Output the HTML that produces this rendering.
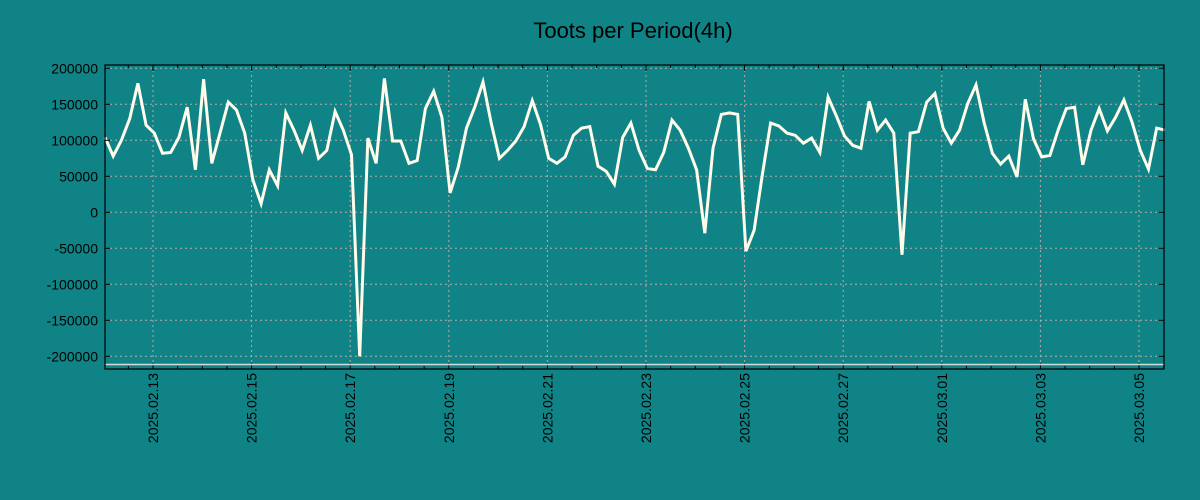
<!DOCTYPE html>
<html><head><meta charset="utf-8"><style>
html,body{margin:0;padding:0;background:#108386;}
svg{display:block;font-family:"Liberation Sans","DejaVu Sans",sans-serif;}
</style></head><body>
<svg id="chart" width="1200" height="500" xmlns="http://www.w3.org/2000/svg">
<rect width="1200" height="500" fill="#108386"/>
<text x="633" y="38" text-anchor="middle" font-size="22" fill="#000">Toots per Period(4h)</text>
<g id="grid"></g>
<g id="series"></g>
<g id="axes"></g>
</svg>
<script>
const values = [104,78,100,130,179,121,110,82,83,104,146,59,185,68,110,153,142,110,45,12,59,37,138,114,86,121,
75,86,140,114,80,-200,103,68,186,99,99,68,72,144,168,132,27,63,117,146,181,124,75,86,99,119,
155,122,75,68,77,107,117,119,64,57,39,104,124,86,61,59,83,128,114,89,59,-29,89,136,138,136,
-54,-25,52,124,120,110,107,96,103,83,160,134,106,93,89,154,114,128,110,-59,110,112,153,165,117,
96,114,151,177,124,82,67,78,49,157,102,77,79,114,144,146,66,114,144,113,132,156,125,86,60,117,114];
const yTicks = [200000,150000,100000,50000,0,-50000,-100000,-150000,-200000];
const xTickLabels = ["2025.02.13","2025.02.15","2025.02.17","2025.02.19","2025.02.21","2025.02.23","2025.02.25","2025.02.27","2025.03.01","2025.03.03","2025.03.05"];
const xTickDays = [1,3,5,7,9,11,13,15,17,19,21]; // days after 2025.02.12

const L=105,R=1164,T=65,B=369;
const pxPerDay=49.3, day0X=103.7; // x of 2025.02.12 00:00
const firstDay=(L-day0X)/pxPerDay;
const xOfDay=d=>day0X+d*pxPerDay;
const xOfIdx=i=>xOfDay(firstDay+i/6);
const yOf=v=>212.3-v/50000*36;
const NS="http://www.w3.org/2000/svg";
function mk(tag,attrs,parent){const e=document.createElementNS(NS,tag);for(const k in attrs)e.setAttribute(k,attrs[k]);parent.appendChild(e);return e;}
const grid=document.getElementById('grid'),axes=document.getElementById('axes'),series=document.getElementById('series');

yTicks.forEach(v=>{
  const y=yOf(v);
  const g=mk('line',{x1:L,x2:R,y1:y,y2:y,stroke:'#b9a9a9','stroke-width':1,'stroke-dasharray':'2,3'},grid);
  
  
  const t=mk('text',{x:L-7,y:y+5,'text-anchor':'end','font-size':14,fill:'#000'},axes);
  t.textContent=v;
  
  
  mk('line',{x1:L,x2:L+5,y1:y,y2:y,stroke:'#000'},axes);
  mk('line',{x1:R,x2:R-5,y1:y,y2:y,stroke:'#000'},axes);
});
xTickDays.forEach((d,i)=>{
  const x=xOfDay(d);
  const g=mk('line',{x1:x,x2:x,y1:T,y2:B,stroke:'#b9a9a9','stroke-width':1,'stroke-dasharray':'2,3'},grid);
  
  
  const t=mk('text',{x:0,y:0,'text-anchor':'end','font-size':14,fill:'#000',transform:`translate(${x+5},${B+4}) rotate(-90)`},axes);
  t.textContent=xTickLabels[i];
  
  
});
for(let d=0;d<=22;d+=0.5){const x=xOfDay(d);if(x<L||x>R)continue;
  const len=(d%2===1)?6:3;
  mk('line',{x1:x,x2:x,y1:B,y2:B-len,stroke:'#000'},axes);
  mk('line',{x1:x,x2:x,y1:T,y2:T+len,stroke:'#000'},axes);
}
const bl=mk('line',{x1:L,x2:R,y1:364.5,y2:364.5,stroke:'#d8d8d8','stroke-width':1.5},axes);


const fr=mk('rect',{x:L,y:T,width:R-L,height:B-T,fill:'none',stroke:'#000','stroke-width':1.2},axes);



const pts=values.map((v,i)=>xOfIdx(i).toFixed(1)+','+yOf(v*1000).toFixed(1)).join(' ');
const line=mk('polyline',{points:pts,fill:'none',stroke:'#fffbeb','stroke-width':3,'stroke-linejoin':'miter'},series);


</script>
</body></html>
